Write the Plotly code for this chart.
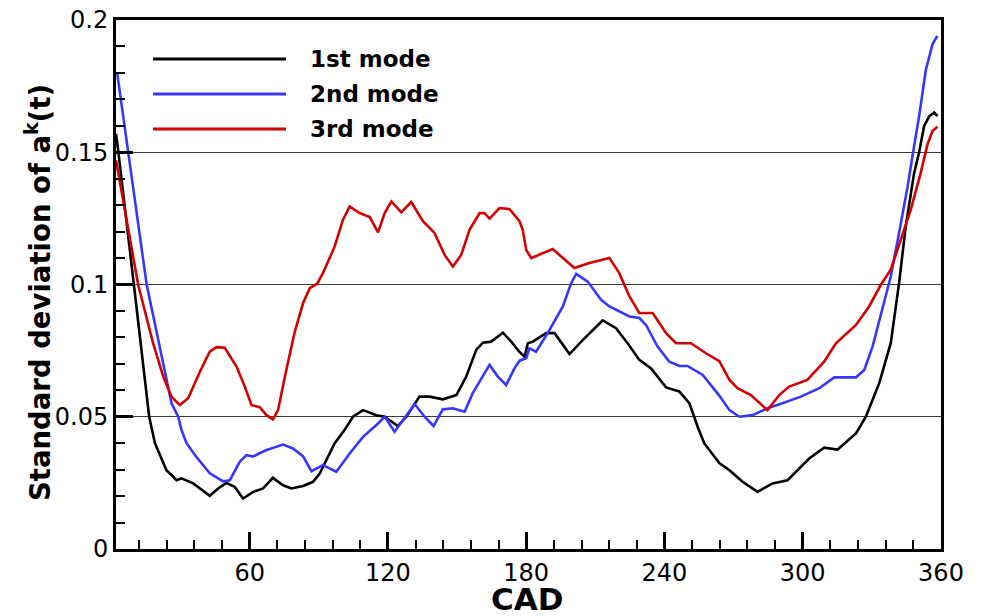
import plotly.graph_objects as go

# ---------------- data ----------------
cad_1 = [2, 2.9, 9.75, 16.4, 18.9, 23.9, 28.3, 30.4, 35.5, 38.4, 42.7, 46.3, 49.9, 53.5, 57.1,
         61.5, 65.8, 70.1, 74.5, 78.1, 83.2, 87.5, 90.4, 91.8, 96.9, 101.2, 104.8, 109.2, 115,
         118.6, 124.3, 128, 133.7, 138.1, 143.8, 149.7, 154, 158.3, 161.2, 164.8, 169.9, 173.5,
         177.1, 179.3, 180.7, 182.9, 188.7, 192.3, 198.8, 204.5, 213.2, 219, 224, 229.1, 234.2,
         240.7, 246.5, 250.8, 254.4, 257.3, 263.8, 268.2, 273.9, 280.4, 286.9, 293.4, 297.7,
         302.8, 309.3, 315.1, 323.1, 327.4, 333.2, 338.2, 341.8, 344.7, 348.3, 350.5, 352.7,
         354.9, 357, 358.5]
std_1 = [0.157, 0.151, 0.100, 0.050, 0.040, 0.0298, 0.026, 0.0267, 0.0248, 0.0229, 0.0201,
         0.0229, 0.025, 0.0235, 0.0191, 0.0216, 0.0229, 0.0269, 0.0241, 0.0229, 0.0238, 0.0254,
         0.0285, 0.031, 0.040, 0.045, 0.050, 0.0525, 0.0506, 0.050, 0.0465, 0.050, 0.0576,
         0.0576, 0.0566, 0.0582, 0.0652, 0.0753, 0.078, 0.0784, 0.0818, 0.0784, 0.0745, 0.0727,
         0.0778, 0.0784, 0.0816, 0.0816, 0.0737, 0.079, 0.0864, 0.0835, 0.0778, 0.0715, 0.0683,
         0.0611, 0.0595, 0.0551, 0.0462, 0.0399, 0.0325, 0.0298, 0.0254, 0.0216, 0.0248, 0.026,
         0.0298, 0.0342, 0.0383, 0.0376, 0.0437, 0.050, 0.0627, 0.0778, 0.1005, 0.122, 0.142,
         0.150, 0.160, 0.1636, 0.165, 0.1637]

cad_2 = [2.5, 7.3, 15.3, 26.1, 29, 30.4, 32.6, 36.9, 42.7, 48.5, 51.4, 55.7, 58.6, 61.5, 67.3,
         74.5, 78.8, 83.2, 86.8, 91.8, 97.6, 103.4, 109.2, 115, 118.6, 122.9, 126.5, 131.6,
         135.9, 139.8, 143.8, 148.2, 153.3, 156.8, 164.1, 167.7, 171.3, 174.9, 177.1, 180,
         181.4, 184.3, 190.1, 195.9, 199.5, 201.7, 206.7, 212.5, 216.1, 220.4, 224.8, 229.1,
         232, 237, 242.1, 246.5, 250, 256.6, 263.8, 268.2, 272.5, 278.2, 284.7, 291.2, 299.2,
         307.2, 313.7, 323.1, 326.7, 330.3, 334.6, 338.2, 341.8, 345.5, 347.9, 350.5, 353.4,
         356.3, 358.4]
std_2 = [0.180, 0.150, 0.100, 0.0551, 0.050, 0.045, 0.040, 0.0348, 0.0286, 0.0256, 0.026,
         0.033, 0.0355, 0.035, 0.0374, 0.0395, 0.038, 0.035, 0.0294, 0.0317, 0.0292, 0.0361,
         0.0424, 0.0469, 0.050, 0.0443, 0.0488, 0.0548, 0.050, 0.0465, 0.0528, 0.0532, 0.0519,
         0.0589, 0.0696, 0.0652, 0.062, 0.0683, 0.0712, 0.0721, 0.0759, 0.0746, 0.0828, 0.0917,
         0.1005, 0.104, 0.1011, 0.0942, 0.0917, 0.0898, 0.0879, 0.0873, 0.0847, 0.0765, 0.0708,
         0.0692, 0.0692, 0.0658, 0.058, 0.0525, 0.050, 0.0506, 0.0532, 0.0551, 0.0576, 0.0608,
         0.0649, 0.0649, 0.0677, 0.0765, 0.0904, 0.103, 0.1195, 0.137, 0.150, 0.1636, 0.181,
         0.1908, 0.194]

cad_3 = [2, 11.6, 18.1, 22.5, 26.1, 29.7, 33.3, 38.4, 42.7, 45.6, 49.2, 54.3, 57.9, 60.8, 64.4,
         67.3, 70.1, 72.3, 75.9, 79.6, 83.2, 86.1, 89.3, 91.8, 96.9, 100.5, 103.4, 107.7, 112.1,
         115.7, 118.6, 121.5, 125.8, 130.1, 135.2, 140.2, 144.6, 148.2, 151.8, 155.4, 159.8,
         161.9, 164.1, 168.4, 172.8, 177.1, 178.5, 180, 182.2, 191.5, 200.9, 207.4, 216.1,
         220.4, 224.8, 229.1, 234.9, 240.7, 245, 251.5, 258, 263.8, 268.2, 271.7, 277.5, 281.2,
         284.7, 289.8, 294.1, 302, 309.3, 314.4, 323.1, 328.8, 333.9, 338.2, 342.6, 346.9,
         351.2, 354.1, 356.3, 358.5]
std_3 = [0.147, 0.100, 0.0778, 0.0652, 0.0576, 0.0544, 0.057, 0.067, 0.0746, 0.0763, 0.0761,
         0.069, 0.0614, 0.0544, 0.0536, 0.0506, 0.049, 0.0525, 0.0677, 0.0822, 0.093, 0.0986,
         0.1003, 0.1043, 0.1144, 0.1245, 0.1295, 0.127, 0.1255, 0.1197, 0.127, 0.1314, 0.1273,
         0.1312, 0.1239, 0.1195, 0.1112, 0.1068, 0.1112, 0.1207, 0.127, 0.127, 0.1249, 0.1289,
         0.1285, 0.1239, 0.1207, 0.1131, 0.110, 0.1134, 0.1062, 0.1081, 0.110, 0.1043, 0.0955,
         0.0892, 0.0892, 0.0816, 0.0778, 0.0778, 0.074, 0.071, 0.0639, 0.0608, 0.0582, 0.0551,
         0.0525, 0.0582, 0.0614, 0.0639, 0.0708, 0.0778, 0.0847, 0.0917, 0.0999, 0.1056, 0.117,
         0.1283, 0.1422, 0.1529, 0.158, 0.1596]

series_names = ["1st mode", "2nd mode", "3rd mode"]
series_x = [cad_1, cad_2, cad_3]
series_y = [std_1, std_2, std_3]
series_colors = ["#000000", "#3636ff", "#d40000"]

x_ticks = [60, 120, 180, 240, 300, 360]
y_ticks = [0, 0.05, 0.1, 0.15, 0.2]
y_tick_text = ["0", "0.05", "0.1", "0.15", "0.2"]

# ---------------- figure ----------------
W, H = 987, 616
ML, MR, MT, MB = 116, 46, 20, 67
PW, PH = W - ML - MR, H - MT - MB

fig = go.Figure()
for name, xs, ys, c in zip(series_names, series_x, series_y, series_colors):
    fig.add_trace(go.Scatter(x=xs, y=ys, mode="lines", name=name,
                             line=dict(color=c, width=2.6), showlegend=False))

FONT = "DejaVu Sans"

fig.update_layout(
    width=W, height=H,
    margin=dict(l=ML, r=MR, t=MT, b=MB, autoexpand=False),
    paper_bgcolor="white", plot_bgcolor="white",
    font=dict(family=FONT, color="black"),
    xaxis=dict(range=[2, 360], tickvals=x_ticks, ticks="inside", ticklen=17, tickwidth=3,
               tickcolor="black", showline=True, linecolor="black", linewidth=3, mirror=True,
               showgrid=False, zeroline=False, tickfont=dict(family=FONT, size=24),
               minor=dict(dtick=12, tick0=0, ticks="inside", ticklen=9, tickwidth=1.5,
                          tickcolor="black", showgrid=False)),
    yaxis=dict(range=[0, 0.2], tickvals=y_ticks, ticktext=y_tick_text,
               ticks="inside", ticklen=17, tickwidth=3,
               tickcolor="black", showline=True, linecolor="black", linewidth=3, mirror=True,
               showgrid=True, gridcolor="#3a3a3a", gridwidth=1.2, zeroline=False,
               tickfont=dict(family=FONT, size=24),
               minor=dict(dtick=0.01, tick0=0, ticks="inside", ticklen=9, tickwidth=1.5,
                          tickcolor="black", showgrid=False)),
)

# axis titles
fig.add_annotation(text="<b>Standard deviation of a<sup>k</sup>(t)</b>", textangle=-90,
                   xref="paper", yref="paper", x=(38 - ML) / PW, y=0.484,
                   xanchor="center", yanchor="middle", showarrow=False,
                   font=dict(family=FONT, size=27.5, color="black"))
fig.add_annotation(text="<b>CAD</b>", xref="paper", yref="paper", x=0.498, y=0,
                   xanchor="center", yanchor="top", yshift=-30, showarrow=False,
                   font=dict(family=FONT, size=31, color="black"))

# legend (drawn manually to match long sample lines)
leg_y_px = [59, 94, 129]
for name, c, ypx in zip(series_names, series_colors, leg_y_px):
    yp = (H - MB - ypx) / PH
    fig.add_shape(type="line", xref="paper", yref="paper",
                  x0=(153 - ML) / PW, x1=(286 - ML) / PW, y0=yp, y1=yp,
                  line=dict(color=c, width=3))
    fig.add_annotation(text="<b>" + name + "</b>", xref="paper", yref="paper",
                       x=(308 - ML) / PW, y=yp, xanchor="left", yanchor="middle",
                       showarrow=False, font=dict(family=FONT, size=23, color="black"))

fig.write_html("out.html")
